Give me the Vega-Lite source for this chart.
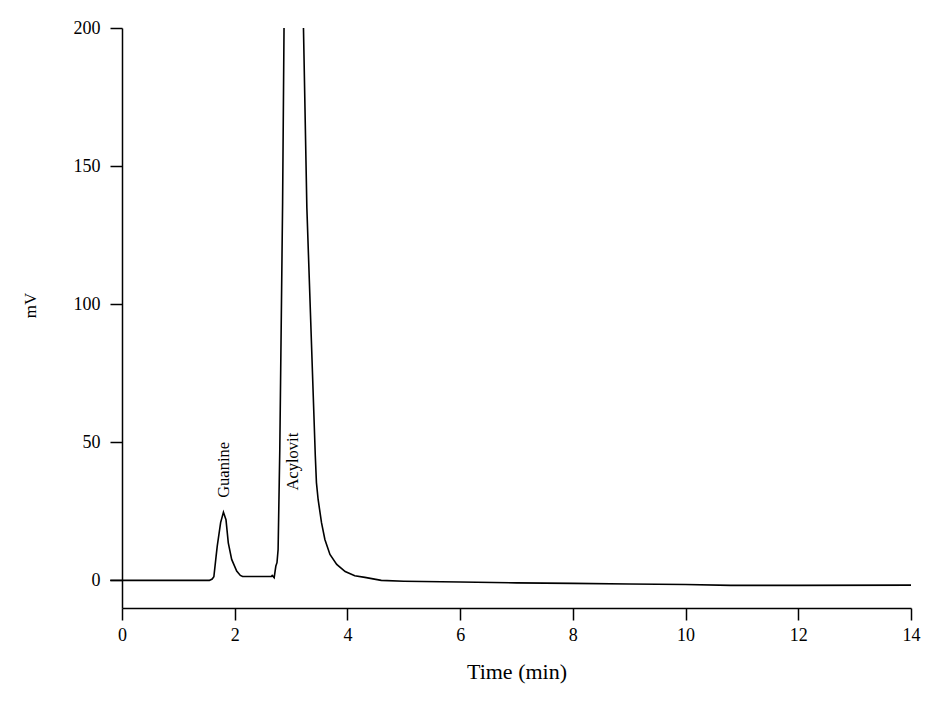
{
  "$schema": "https://vega.github.io/schema/vega-lite/v6.json",
  "autosize": "none",
  "width": 789,
  "height": 580,
  "padding": {"left": 122, "top": 28, "right": 33, "bottom": 96},
  "background": "white",
  "config": {
    "font": "Liberation Serif",
    "view": {"stroke": null},
    "axis": {"grid": false, "domainColor": "black", "tickColor": "black", "labelColor": "black", "titleColor": "black", "labelFont": "Liberation Serif", "titleFont": "Liberation Serif", "labelFontSize": 18, "titleFontSize": 17, "titleFontWeight": "normal", "tickSize": 12, "domainWidth": 1.5, "tickWidth": 1.5, "labelFlush": false}
  },
  "datasets": {
    "trace": [
      {"t": -0.21, "mV": 0},
      {"t": 0, "mV": 0},
      {"t": 1.0, "mV": 0},
      {"t": 1.55, "mV": 0},
      {"t": 1.6, "mV": 0.5},
      {"t": 1.63, "mV": 1.3},
      {"t": 1.67, "mV": 8.8},
      {"t": 1.69, "mV": 12.4},
      {"t": 1.75, "mV": 20.9},
      {"t": 1.8, "mV": 24.7},
      {"t": 1.845, "mV": 22},
      {"t": 1.886, "mV": 13.6},
      {"t": 1.946, "mV": 7.6},
      {"t": 2.035, "mV": 3.4},
      {"t": 2.1, "mV": 1.8},
      {"t": 2.14, "mV": 1.4},
      {"t": 2.65, "mV": 1.4},
      {"t": 2.665, "mV": 1.8},
      {"t": 2.7, "mV": 1.0},
      {"t": 2.73, "mV": 5.2},
      {"t": 2.75, "mV": 6.4},
      {"t": 2.77, "mV": 11.2},
      {"t": 2.78, "mV": 23.3},
      {"t": 2.79, "mV": 35.4},
      {"t": 2.8, "mV": 47.4},
      {"t": 2.85, "mV": 137},
      {"t": 2.875, "mV": 200},
      {"t": 2.9, "mV": 280},
      {"t": 3.05, "mV": 420},
      {"t": 3.17, "mV": 280},
      {"t": 3.22, "mV": 200},
      {"t": 3.28, "mV": 135},
      {"t": 3.43, "mV": 45},
      {"t": 3.45, "mV": 35.4},
      {"t": 3.48, "mV": 29.3},
      {"t": 3.54, "mV": 20.9},
      {"t": 3.6, "mV": 14.8},
      {"t": 3.69, "mV": 9.4},
      {"t": 3.81, "mV": 5.8},
      {"t": 3.96, "mV": 3.2},
      {"t": 4.13, "mV": 1.7},
      {"t": 4.31, "mV": 1.1},
      {"t": 4.6, "mV": 0.0},
      {"t": 5.0, "mV": -0.3},
      {"t": 6.0, "mV": -0.6},
      {"t": 7.0, "mV": -0.9},
      {"t": 8.0, "mV": -1.1},
      {"t": 9.0, "mV": -1.3},
      {"t": 10.0, "mV": -1.5},
      {"t": 10.8, "mV": -1.8},
      {"t": 12.0, "mV": -1.8},
      {"t": 14.0, "mV": -1.7}
    ],
    "labels": [
      {"t": 1.81, "mV": 40, "label": "Guanine"},
      {"t": 3.03, "mV": 43, "label": "Acylovit"}
    ]
  },
  "layer": [
    {
      "data": {"name": "trace"},
      "mark": {"type": "line", "color": "black", "strokeWidth": 1.6, "clip": true},
      "encoding": {
        "x": {"field": "t", "type": "quantitative", "scale": {"domain": [0, 14], "nice": false, "zero": false},
          "axis": {"title": "Time (min)", "values": [0, 2, 4, 6, 8, 10, 12, 14], "format": "d", "labelPadding": 6, "titlePadding": 17, "titleFontSize": 22}},
        "y": {"field": "mV", "type": "quantitative", "scale": {"domain": [-10, 200], "nice": false, "zero": false},
          "axis": {"title": "mV", "values": [0, 50, 100, 150, 200], "format": "d", "labelPadding": 10, "titleX": -92, "titleY": 277, "titleAngle": 270, "titleAlign": "center", "titleBaseline": "middle"}}
      }
    },
    {
      "data": {"name": "trace"},
      "transform": [{"filter": "datum.t <= 0"}],
      "mark": {"type": "line", "color": "black", "strokeWidth": 1.6, "clip": false},
      "encoding": {
        "x": {"field": "t", "type": "quantitative"},
        "y": {"field": "mV", "type": "quantitative"}
      }
    },
    {
      "data": {"name": "labels"},
      "mark": {"type": "text", "angle": 270, "align": "center", "baseline": "middle", "font": "Liberation Serif", "fontSize": 16.5, "color": "black"},
      "encoding": {
        "x": {"field": "t", "type": "quantitative"},
        "y": {"field": "mV", "type": "quantitative"},
        "text": {"field": "label"}
      }
    }
  ]
}
